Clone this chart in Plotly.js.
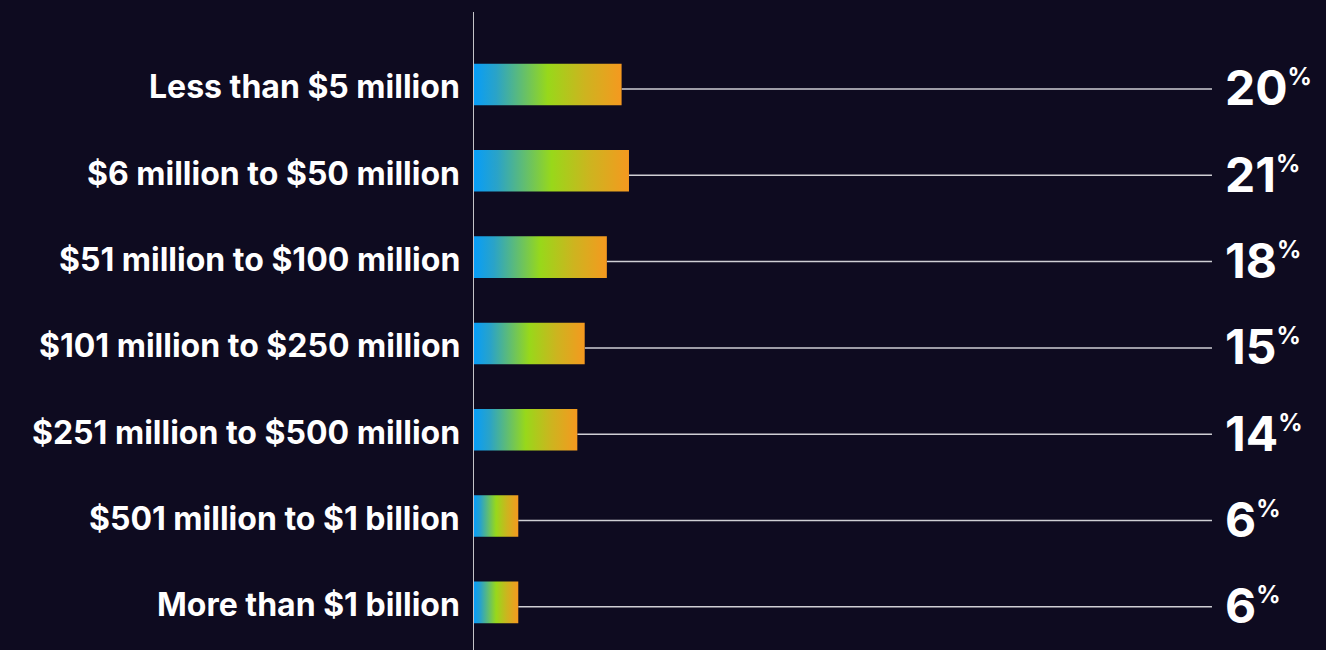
<!DOCTYPE html>
<html>
<head>
<meta charset="utf-8">
<script src="https://cdn.plot.ly/plotly-3.0.1.min.js"></script>
<style>
html,body{margin:0;padding:0;background:#0e0b20;}
#chart{width:1326px;height:650px;}
</style>
</head>
<body>
<div id="chart"></div>
<script>
const categories = [
  "Less than $5 million",
  "$6 million to $50 million",
  "$51 million to $100 million",
  "$101 million to $250 million",
  "$251 million to $500 million",
  "$501 million to $1 billion",
  "More than $1 billion"
];
const values = [20, 21, 18, 15, 14, 6, 6];
const leaderEnd = 100;

const BG = '#0e0b20';
const halfH = 0.241;
const barOffset = -0.052;
const gradient = [[0,'#079df8'],[0.15,'#2aa3c8'],[0.5,'#98d81a'],[0.75,'#cdb41f'],[1,'#f5991f']];

const traces = [];
values.forEach((v, i) => {
  traces.push({
    type: 'scatter', mode: 'lines',
    x: [v, leaderEnd], y: [i, i],
    line: {color: '#cfcfd4', width: 1.5},
    hoverinfo: 'skip', showlegend: false
  });
  const c = i + barOffset;
  traces.push({
    type: 'scatter', mode: 'lines',
    x: [0, v, v, 0, 0],
    y: [c - halfH, c - halfH, c + halfH, c + halfH, c - halfH],
    fill: 'toself',
    fillgradient: {type: 'horizontal', colorscale: gradient},
    line: {width: 0, color: 'rgba(0,0,0,0)'},
    hoverinfo: 'skip', showlegend: false
  });
});

const annotations = [];
categories.forEach((c, i) => {
  annotations.push({
    x: 0, y: i, xref: 'x', yref: 'y', xanchor: 'right', yanchor: 'middle',
    xshift: -12, yshift: 2, text: c, showarrow: false,
    font: {family: 'Inter', size: 32, color: '#ffffff', weight: 700}
  });
  annotations.push({
    x: leaderEnd, y: i, xref: 'x', yref: 'y', xanchor: 'left', yanchor: 'middle',
    xshift: 11, yshift: 1, showarrow: false,
    text: values[i] + "<sup><span style='font-size:24px'>%</span></sup>",
    font: {family: 'Inter', size: 48, color: '#ffffff', weight: 700}
  });
});

const layout = {
  width: 1326, height: 650,
  paper_bgcolor: BG, plot_bgcolor: BG,
  margin: {l: 474, r: 0, t: 12, b: 0},
  xaxis: {range: [0, 115.45], showgrid: false, zeroline: false, showticklabels: false, showline: false, fixedrange: true},
  yaxis: {range: [6.5, -0.892], showgrid: false, zeroline: false, showticklabels: false,
          showline: true, linecolor: '#c4c4c8', linewidth: 1.5, fixedrange: true},
  annotations: annotations,
  showlegend: false
};

Plotly.newPlot('chart', traces, layout, {staticPlot: true, displayModeBar: false});
</script>
</body>
</html>
